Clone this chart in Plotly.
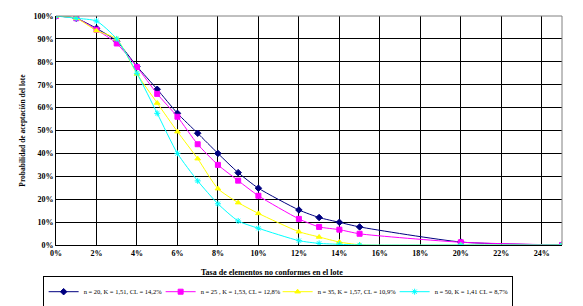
import plotly.graph_objects as go

# tasa de elementos no conformes (%)
x_pct = [0, 1, 2, 3, 4, 5, 6, 7, 8, 9, 10, 12, 13, 14, 15, 20, 25]

# probabilidad de aceptacion (%)
pa_n20 = [100, 99, 94.6, 89, 78, 68, 57.5, 48.8, 40, 31.6, 24.8, 15.3, 12, 9.9, 7.9, 1.3, 0]
pa_n25 = [100, 99, 94, 88, 77.7, 66, 56, 44, 35, 28.1, 21.5, 11.4, 7.9, 6.7, 4.9, 1.2, 0]
pa_n35 = [100, 99, 93.6, 90, 74.7, 62, 49.5, 37.7, 24.6, 18.5, 13.8, 5.8, 3.5, 1.3, 0.1, 0, 0]
pa_n50 = [100, 99, 97.8, 90, 75, 57.5, 40, 28, 18, 10.5, 7.3, 1.9, 0.7, 0.3, 0, 0, 0]

labels = [
    "n = 20, K = 1,51, CL = 14,2%",
    "n = 25 , K = 1,53, CL = 12,8%",
    "n = 35, K = 1,57, CL = 10,9%",
    "n = 50, K = 1,41 CL = 8,7%",
]

x_ticks = list(range(0, 25, 2))
x_tick_text = [f"<b>{v}%</b>" for v in x_ticks]
y_ticks = list(range(0, 101, 10))
y_tick_text = [f"<b>{v}%</b>" for v in y_ticks]

FONT = "Liberation Serif"

series = [
    (pa_n20, labels[0], "#000080", "diamond"),
    (pa_n25, labels[1], "#FF00FF", "square"),
    (pa_n35, labels[2], "#FFFF00", "triangle-up"),
    (pa_n50, labels[3], "#00FFFF", "asterisk-open"),
]

fig = go.Figure()
for ys, name, color, symbol in series:
    fig.add_trace(go.Scatter(
        x=x_pct, y=ys, name=name, mode="lines+markers",
        line=dict(color=color, width=1, shape="spline", smoothing=0.6),
        marker=dict(symbol=symbol, size=5, color=color,
                    line=dict(color=color, width=1)),
    ))

# page body keeps the browser's default 8px margin, so the figure is
# 8px smaller than the window and the margins are shifted to match
fig.update_layout(
    width=575, height=298,
    margin=dict(l=48, r=21, t=8, b=61, autoexpand=False),
    paper_bgcolor="white", plot_bgcolor="white",
    font=dict(family=FONT, size=9, color="black"),
    showlegend=True,
    legend=dict(
        orientation="h", x=0.438, xanchor="center",
        yref="container", y=0.1, yanchor="top",
        bordercolor="black", borderwidth=1, bgcolor="white",
        font=dict(family=FONT, size=6.5, color="black"),
        entrywidth=72, entrywidthmode="pixels", tracegroupgap=0,
    ),
    shapes=[
        dict(type="line", xref="paper", yref="paper", x0=0, x1=1, y0=1, y1=1,
             line=dict(color="#808080", width=1)),
        dict(type="line", xref="paper", yref="paper", x0=1, x1=1, y0=0, y1=1,
             line=dict(color="#808080", width=1)),
    ],
    annotations=[
        dict(text="<b>Tasa de elementos no conformes en el lote</b>", xref="paper",
             yref="paper", x=0.427, y=-0.118, xanchor="center", yanchor="middle",
             showarrow=False, font=dict(family=FONT, size=8)),
    ],
)

fig.update_xaxes(range=[0, 25], tickvals=x_ticks, ticktext=x_tick_text,
                 showgrid=True, gridcolor="black", gridwidth=1, automargin=False,
                 zeroline=False, showline=True, linecolor="black", ticks="",
                 tickfont=dict(family=FONT, size=8))
fig.update_yaxes(range=[0, 100], tickvals=y_ticks, ticktext=y_tick_text,
                 showgrid=True, gridcolor="black", gridwidth=1, automargin=False,
                 zeroline=False, showline=True, linecolor="black", ticks="",
                 tickfont=dict(family=FONT, size=8),
                 title=dict(text="<b>Probabilidad de aceptación del lote</b>",
                            standoff=6, font=dict(family=FONT, size=7.5)))

fig.write_html("out.html")
